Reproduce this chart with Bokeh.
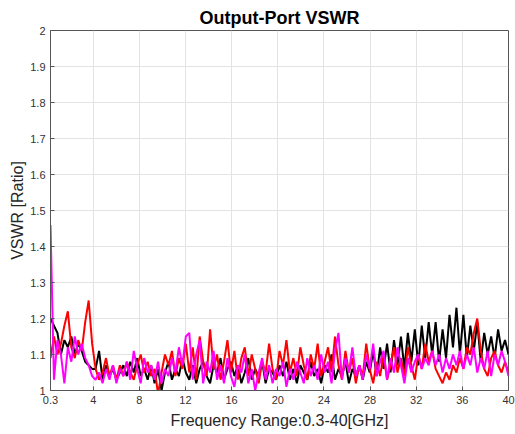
from bokeh.plotting import figure
from bokeh.models import FixedTicker, Range1d
from bokeh.embed import file_html
from bokeh.resources import INLINE
import numpy as np

# ---- data ----
f_start, f_stop = 0.3, 40.0

vswr_black = [
    1.20, 1.18, 1.16, 1.10, 1.14, 1.12, 1.15, 1.10, 1.13, 1.11,
    1.08, 1.07, 1.06, 1.06, 1.11, 1.03, 1.07, 1.04, 1.06, 1.03,
    1.05, 1.07, 1.04, 1.08, 1.05, 1.09, 1.04, 1.06, 1.03, 1.07,
    1.02, 1.06, 1.00, 1.05, 1.08, 1.03, 1.06, 1.04, 1.09, 1.05,
    1.03, 1.07, 1.02, 1.06, 1.08, 1.04, 1.02, 1.07, 1.05, 1.09,
    1.03, 1.06, 1.08, 1.04, 1.07, 1.02, 1.05, 1.09, 1.03, 1.06,
    1.04, 1.08, 1.02, 1.06, 1.05, 1.03, 1.07, 1.04, 1.08, 1.03,
    1.06, 1.02, 1.07, 1.05, 1.03, 1.08, 1.04, 1.06, 1.02, 1.07,
    1.05, 1.10, 1.03, 1.06, 1.04, 1.08, 1.02, 1.06, 1.04, 1.07,
    1.03, 1.08, 1.05, 1.11, 1.04, 1.12, 1.06, 1.13, 1.05, 1.14,
    1.07, 1.15, 1.06, 1.16, 1.08, 1.17, 1.07, 1.18, 1.09, 1.19,
    1.10, 1.19, 1.08, 1.17, 1.09, 1.21, 1.12, 1.23, 1.10, 1.21,
    1.09, 1.18, 1.11, 1.19, 1.08, 1.16, 1.10, 1.15, 1.09, 1.17,
    1.11, 1.14, 1.10,
]

vswr_red = [
    1.09, 1.15, 1.10, 1.13, 1.18, 1.22, 1.12, 1.09, 1.14, 1.11,
    1.19, 1.25, 1.13, 1.06, 1.03, 1.05, 1.09, 1.04, 1.07, 1.03,
    1.07, 1.04, 1.08, 1.05, 1.03, 1.07, 1.10, 1.05, 1.08, 1.04,
    1.06, 0.99, 1.05, 1.10, 1.07, 1.11, 1.04, 1.09, 1.06, 1.13,
    1.05, 1.12, 1.03, 1.15, 1.08, 1.04, 1.17, 1.06, 1.10, 1.03,
    1.08, 1.14, 1.05, 1.11, 1.03, 1.09, 1.12, 1.04, 1.10, 1.06,
    1.02, 1.08, 1.05, 1.13, 1.06, 1.03, 1.11, 1.07, 1.14, 1.05,
    1.09, 1.04, 1.12, 1.07, 1.03, 1.10, 1.06, 1.13, 1.04, 1.08,
    1.12, 1.05, 1.15, 1.07, 1.03, 1.11, 1.05, 1.09, 1.02, 1.07,
    1.04, 1.13, 1.06, 1.02, 1.08, 1.04, 1.10, 1.03, 1.07, 1.12,
    1.05, 1.09, 1.04, 1.12, 1.07, 1.03, 1.10, 1.06, 1.13, 1.08,
    1.11, 1.06, 1.04, 1.02, 1.05, 1.03, 1.07, 1.05, 1.09, 1.06,
    1.12, 1.10, 1.16, 1.20, 1.11, 1.06, 1.04, 1.09, 1.11, 1.07,
    1.05, 1.08, 1.05,
]

vswr_magenta = [
    1.46, 1.03, 1.14, 1.10, 1.02, 1.12, 1.08, 1.15, 1.10, 1.13,
    1.09, 1.07, 1.04, 1.03, 1.05, 1.02, 1.06, 1.03, 1.07, 1.02,
    1.06, 1.04, 1.08, 1.03, 1.11, 1.06, 1.02, 1.09, 1.05, 1.07,
    1.03, 1.08, 1.02, 1.06, 1.04, 1.09, 1.05, 1.12, 1.07, 1.15,
    1.16, 1.03, 1.10, 1.14, 1.02, 1.08, 1.05, 1.11, 1.03, 1.07,
    1.02, 1.09, 1.04, 1.01, 1.07, 1.05, 1.10, 1.02, 1.06, 1.00,
    1.05, 1.09, 1.03, 1.07, 1.02, 1.06, 1.04, 1.08, 1.01, 1.06,
    1.03, 1.08, 1.05, 1.02, 1.09, 1.04, 1.07, 1.03, 1.10, 1.05,
    1.08, 1.02, 1.11, 1.16, 1.03, 1.09, 1.05, 1.12, 1.04, 1.07,
    1.03, 1.10, 1.06, 1.13, 1.04, 1.08, 1.11, 1.03, 1.09, 1.05,
    1.12, 1.07, 1.02, 1.09, 1.05, 1.08, 1.10, 1.06, 1.09, 1.07,
    1.11, 1.07, 1.10, 1.05, 1.09, 1.06, 1.10, 1.07, 1.11, 1.06,
    1.10, 1.07, 1.12, 1.05, 1.09, 1.06, 1.11, 1.04, 1.10, 1.07,
    1.11, 1.08, 1.04,
]

x_ticks = [0.3, 4, 8, 12, 16, 20, 24, 28, 32, 36, 40]
x_tick_labels = ["0.3", "4", "8", "12", "16", "20", "24", "28", "32", "36", "40"]
y_ticks = [1.0, 1.1, 1.2, 1.3, 1.4, 1.5, 1.6, 1.7, 1.8, 1.9, 2.0]
y_tick_labels = ["1", "1.1", "1.2", "1.3", "1.4", "1.5", "1.6", "1.7", "1.8", "1.9", "2"]

freq = np.linspace(f_start, f_stop, len(vswr_black))

FONT = "Liberation Sans"
AX = "#555555"

p = figure(width=515, height=434, output_backend="svg", toolbar_location=None,
           x_range=Range1d(0.3, 40), y_range=Range1d(1, 2),
           min_border_left=50, min_border_right=7, min_border_top=30, min_border_bottom=44)

p.title.text = "Output-Port VSWR"
p.title.text_font = FONT
p.title.text_font_size = "18px"
p.title.text_font_style = "bold"
p.title.text_color = "#000000"
p.title.align = "center"
p.title.standoff = 5

p.line(freq, vswr_black, line_color="#000000", line_width=2)
p.line(freq, vswr_red, line_color="#FF0000", line_width=2)
p.line(freq, vswr_magenta, line_color="#FF00FF", line_width=2)

p.outline_line_color = AX
p.outline_line_width = 1
p.background_fill_color = "white"
p.border_fill_color = "white"

for ax, ticks, labels in ((p.xaxis[0], x_ticks, x_tick_labels), (p.yaxis[0], y_ticks, y_tick_labels)):
    ax.ticker = FixedTicker(ticks=ticks)
    ax.major_label_overrides = dict(zip(ticks, labels))
    ax.minor_tick_line_color = None
    ax.major_tick_in = 4
    ax.major_tick_out = 0
    ax.major_tick_line_color = AX
    ax.axis_line_color = AX
    ax.major_label_text_font = FONT
    ax.major_label_text_font_size = "11px"
    ax.major_label_text_color = "#333333"
    ax.major_label_standoff = 5
    ax.axis_label_text_font = FONT
    ax.axis_label_text_font_size = "16px"
    ax.axis_label_text_font_style = "normal"
    ax.axis_label_text_color = "#262626"

p.xaxis.axis_label = "Frequency Range:0.3-40[GHz]"
p.yaxis.axis_label = "VSWR [Ratio]"
p.xaxis.axis_label_standoff = 5
p.yaxis.axis_label_standoff = 1

p.xgrid.ticker = FixedTicker(ticks=x_ticks)
p.ygrid.ticker = FixedTicker(ticks=y_ticks)
p.grid.grid_line_color = "#E3E3E3"
p.grid.grid_line_width = 1

open("out.html", "w").write(file_html(p, INLINE))
